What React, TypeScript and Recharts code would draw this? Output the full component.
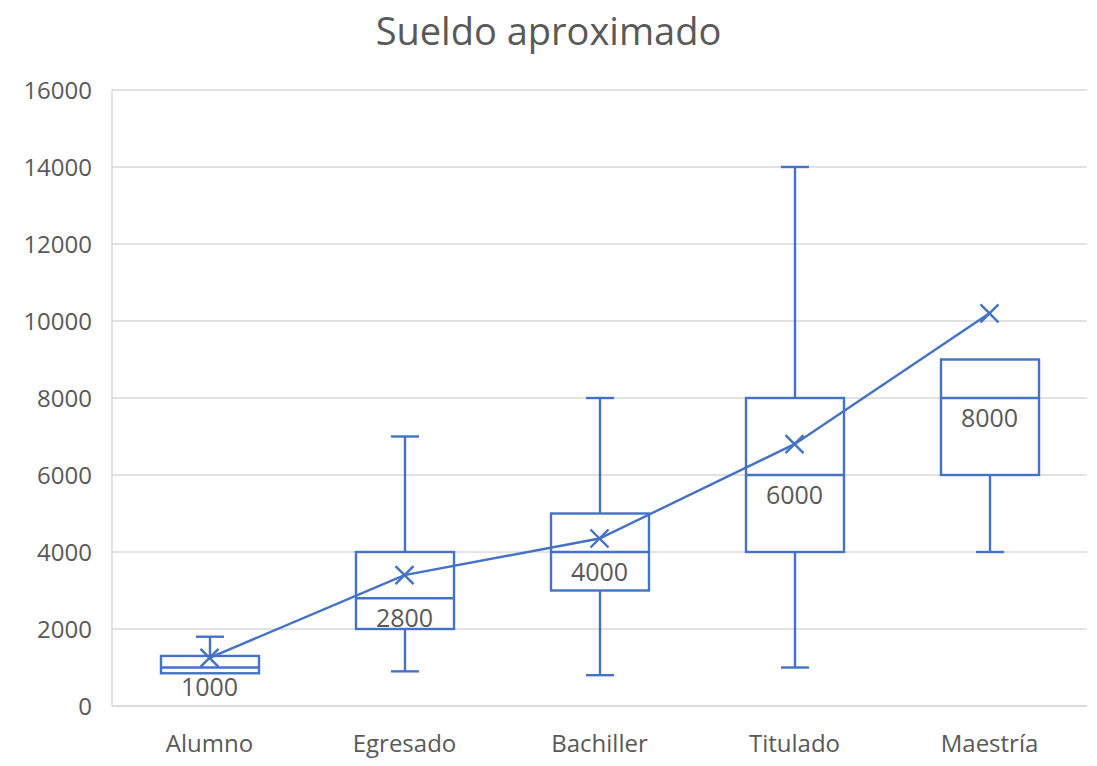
import React from 'react';
import {
  ComposedChart,
  Bar,
  Line,
  XAxis,
  YAxis,
  CartesianGrid,
  LabelList,
} from 'recharts';

const categories = ['Alumno', 'Egresado', 'Bachiller', 'Titulado', 'Maestría'];
const minValues = [850, 900, 800, 1000, 4000];
const q1Values = [850, 2000, 3000, 4000, 6000];
const medianValues = [1000, 2800, 4000, 6000, 8000];
const q3Values = [1300, 4000, 5000, 8000, 9000];
const maxValues = [1800, 7000, 8000, 14000, 9000];
const meanValues = [1250, 3400, 4350, 6800, 10200];
const yTicks = [0, 2000, 4000, 6000, 8000, 10000, 12000, 14000, 16000];

const BLUE = '#4472C4';
const TEXT = '#595959';
const FONT = '"Open Sans", sans-serif';

const data = categories.map((name, i) => ({
  name,
  min: minValues[i],
  q1: q1Values[i],
  median: medianValues[i],
  q3: q3Values[i],
  max: maxValues[i],
  mean: meanValues[i],
}));

// draws whiskers + box inside the [min, max] range bar
function BoxShape(props: any) {
  const { x, y, width, height, payload } = props;
  const top = Math.min(y, y + height);
  const bottom = Math.max(y, y + height);
  const { min, max, q1, q3, median } = payload;
  const span = max - min || 1;
  const pos = (v: number) => bottom - ((v - min) / span) * (bottom - top);
  const cx = x + width / 2;
  const cap = 14;
  return (
    <g stroke={BLUE} strokeWidth={2.4} fill="none">
      {max > q3 && (
        <>
          <line x1={cx} x2={cx} y1={pos(max)} y2={pos(q3)} />
          <line x1={cx - cap} x2={cx + cap} y1={pos(max)} y2={pos(max)} />
        </>
      )}
      {min < q1 && (
        <>
          <line x1={cx} x2={cx} y1={pos(q1)} y2={pos(min)} />
          <line x1={cx - cap} x2={cx + cap} y1={pos(min)} y2={pos(min)} />
        </>
      )}
      <rect x={x} y={pos(q3)} width={width} height={pos(q1) - pos(q3)} fill="#fff" />
      <line x1={x} x2={x + width} y1={pos(median)} y2={pos(median)} />
    </g>
  );
}

function MeanMark(props: any) {
  const { cx, cy } = props;
  const s = 9;
  return (
    <g stroke={BLUE} strokeWidth={2.4}>
      <line x1={cx - s} y1={cy - s} x2={cx + s} y2={cy + s} />
      <line x1={cx - s} y1={cy + s} x2={cx + s} y2={cy - s} />
    </g>
  );
}

export default function App() {
  return (
    <div style={{ position: 'relative', width: 1097, height: 766, background: '#fff', fontFamily: FONT }}>
      <style>{`body{margin:0}`}</style>
      <div
        style={{
          position: 'absolute',
          top: 4,
          left: 0,
          width: 1097,
          textAlign: 'center',
          fontSize: 38,
          color: TEXT,
          fontFamily: FONT,
        }}
      >
        Sueldo aproximado
      </div>
      <ComposedChart
        width={1097}
        height={766}
        data={data}
        margin={{ top: 90, right: 10, bottom: 0, left: 12 }}
      >
        <CartesianGrid vertical={false} stroke="#d9d9d9" strokeWidth={1.5} />
        <XAxis
          dataKey="name"
          height={60}
          tickSize={0}
          tickMargin={29}
          axisLine={{ stroke: '#d9d9d9', strokeWidth: 1.5 }}
          tick={{ fill: TEXT, fontSize: 24, fontFamily: FONT }}
        />
        <YAxis
          width={100}
          domain={[0, 16000]}
          ticks={yTicks}
          tickSize={0}
          tickMargin={20}
          axisLine={{ stroke: '#d9d9d9', strokeWidth: 1.5 }}
          tick={{ fill: TEXT, fontSize: 24, fontFamily: FONT }}
        />
        <Bar
          dataKey={(d: any) => [d.min, d.max]}
          barSize={98}
          shape={<BoxShape />}
          isAnimationActive={false}
        />
        <Line
          type="linear"
          dataKey="median"
          stroke="none"
          dot={false}
          activeDot={false}
          isAnimationActive={false}
        >
          <LabelList
            dataKey="median"
            position="bottom"
            offset={11}
            fill={TEXT}
            fontSize={25}
            fontFamily={FONT}
          />
        </Line>
        <Line
          type="linear"
          dataKey="mean"
          stroke={BLUE}
          strokeWidth={2.4}
          dot={<MeanMark />}
          activeDot={false}
          isAnimationActive={false}
        />
      </ComposedChart>
    </div>
  );
}
